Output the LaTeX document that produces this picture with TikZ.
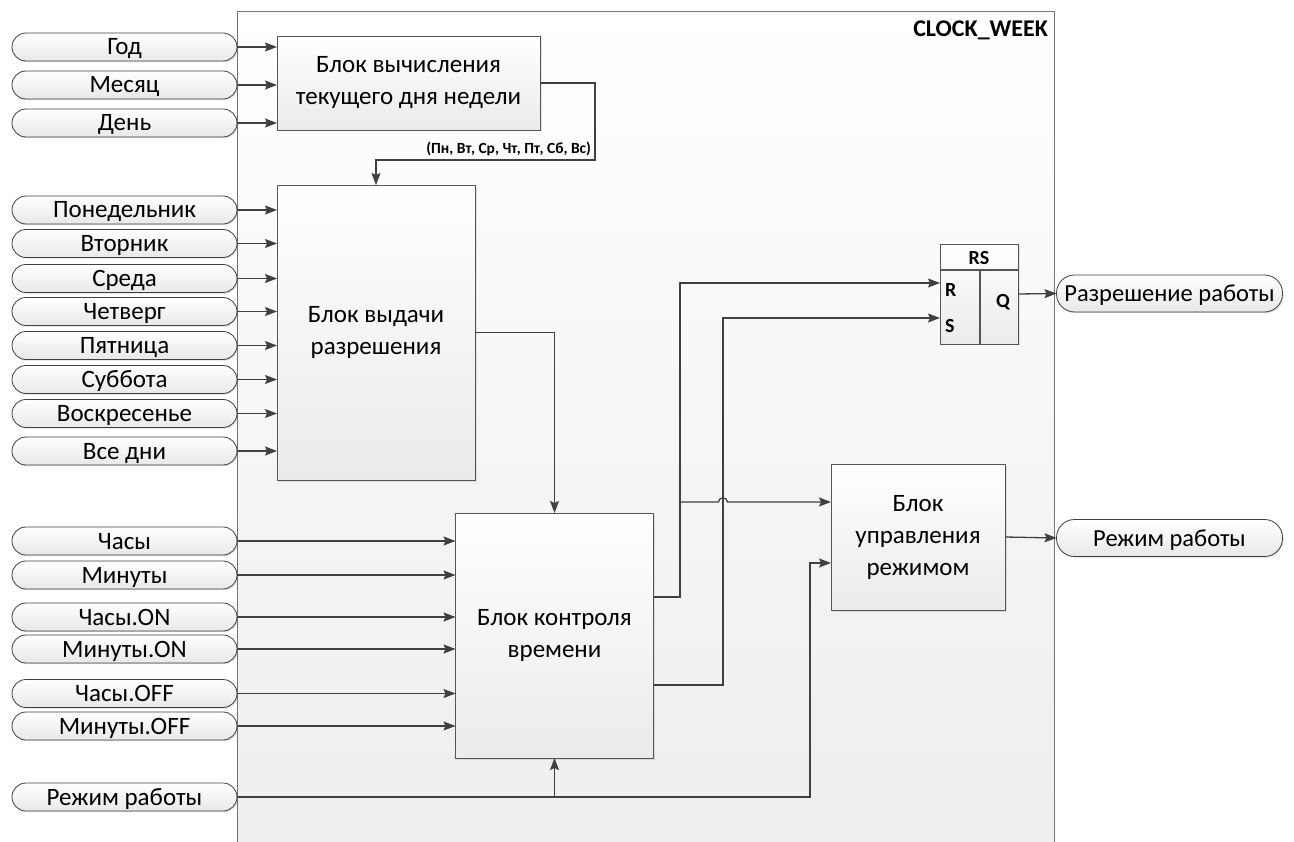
\documentclass[tikz,border=0pt]{standalone}
\usepackage{fontspec}
\setmainfont{Carlito}
\usetikzlibrary{arrows.meta,shadows}
\definecolor{ln}{HTML}{404040}
\definecolor{bd}{HTML}{555555}
\begin{document}
\begin{tikzpicture}[x=1pt,y=-1pt,
  every node/.style={font=\fontsize{25}{32}\selectfont, inner sep=0pt, outer sep=0pt},
  pill/.style={draw=ln, line width=0.8pt, rounded corners=14pt, minimum width=225pt, minimum height=28pt,
    text height=16pt, text depth=0pt,
    top color=white, bottom color=black!9, drop shadow={opacity=0.25, shadow xshift=1.2pt, shadow yshift=-1.2pt}},
  opill/.style={pill, minimum width=226pt, minimum height=37pt, rounded corners=18pt, font=\fontsize{24.5}{30}\selectfont},
  blockbox/.style={draw=bd, line width=0.8pt, top color=white, bottom color=black!8, align=center,
    drop shadow={opacity=0.2, shadow xshift=1.5pt, shadow yshift=-1.5pt}},
  arr/.style={draw=ln, line width=1.3pt, -{Stealth[length=12pt,width=9pt,inset=2pt]}},
  lbl/.style={font=\fontsize{15.5}{17}\selectfont\bfseries},
  rsl/.style={font=\fontsize{20}{22}\selectfont\bfseries}
]
\useasboundingbox (0,0) rectangle (1294,842);
% outer block
\node[draw=black!55, line width=0.8pt, top color=white, bottom color=black!7, minimum width=817pt, minimum height=850pt, anchor=north west] (clk) at (237,11) {};
\node[font=\fontsize{24}{26}\selectfont\bfseries, anchor=base east] (title) at (1048,37) {CLOCK\_WEEK};

% inputs
\node[pill] (pGod) at (124.5,47) {Год};
\node[pill] (pMes) at (124.5,85) {Месяц};
\node[pill] (pDen) at (124.5,123) {День};

\node[pill] (pPn) at (124.5,210) {Понедельник};
\node[pill] (pVt) at (124.5,243.5) {Вторник};
\node[pill] (pSr) at (124.5,278.5) {Среда};
\node[pill] (pCht) at (124.5,311.5) {Четверг};
\node[pill] (pPt) at (124.5,345.5) {Пятница};
\node[pill] (pSb) at (124.5,379.5) {Суббота};
\node[pill] (pVs) at (124.5,413.5) {Воскресенье};
\node[pill] (pAll) at (124.5,451) {Все дни};

\node[pill] (pH) at (124.5,541) {Часы};
\node[pill] (pM) at (124.5,575) {Минуты};
\node[pill] (pHon) at (124.5,617) {Часы.ON};
\node[pill] (pMon) at (124.5,649) {Минуты.ON};
\node[pill] (pHoff) at (124.5,693.5) {Часы.OFF};
\node[pill] (pMoff) at (124.5,726) {Минуты.OFF};

\node[pill] (pRezh) at (124.5,797) {Режим работы};

% outputs
\node[opill] (oRazr) at (1169.5,293.5) {Разрешение работы};
\node[opill] (oRezh) at (1169.5,538) {Режим работы};

% blocks
\node[blockbox, minimum width=263pt, minimum height=94pt] (b1) at (408.5,83) {Блок вычисления\\текущего дня недели};
\node[blockbox, minimum width=198pt, minimum height=295pt] (b2) at (376,332.5) {Блок выдачи\\разрешения};
\node[blockbox, minimum width=198pt, minimum height=245pt] (b3) at (554.5,635.5) {Блок контроля\\времени};
\node[blockbox, minimum width=174pt, minimum height=146pt] (b4) at (918,537) {Блок\\управления\\режимом};

% RS trigger
\node[blockbox, minimum width=78pt, minimum height=100pt] (rs) at (979,294) {};
\draw[draw=bd, line width=1.4pt] (rs.north west |- 0,270) -- (rs.north east |- 0,270);
\draw[draw=bd, line width=1.4pt] (980,270) -- (980,344);
\node[rsl, anchor=base] (rsT) at (979,265) {RS};
\node[rsl, anchor=base west] (rsRl) at (945,297) {R};
\node[rsl, anchor=base west] (rsSl) at (945,333) {S};
\node[rsl, anchor=base] (rsQl) at (1003,308) {Q};
\coordinate (rsR) at (940,283);
\coordinate (rsS) at (940,318);

% label
\node[lbl, anchor=base east] (days) at (591,154) {(Пн, Вт, Ср, Чт, Пт, Сб, Вс)};

% connectors: inputs
\foreach \p in {pGod,pMes,pDen} \draw[arr] (\p.east) -- (\p.east -| b1.west);
\foreach \p in {pPn,pVt,pSr,pCht,pPt,pSb,pVs,pAll} \draw[arr] (\p.east) -- (\p.east -| b2.west);
\foreach \p in {pH,pM,pHon,pMon,pHoff,pMoff} \draw[arr] (\p.east) -- (\p.east -| b3.west);

% block1 -> block2
\coordinate (c6) at (595,160);
\draw[arr] (b1.east) -| (c6) -| (b2.north);
% block2 -> block3
\draw[arr] (b2.east) -| (b3.north);
% block3 -> RS
\coordinate (c1) at (680,597);
\coordinate (c2) at (723,685);
\draw[arr] (b3.east |- c1) -- (c1) |- (rsR);
\draw[arr] (b3.east |- c2) -- (c2) |- (rsS);
% branch to block4 with hop
\coordinate (c3) at (680,502);
\draw[arr] (c3) -- (718.5,502) .. controls (718.5,496.5) and (727.5,496.5) .. (727.5,502) -- (b4.west |- c3);
% mode input
\coordinate (c4) at (810,797);
\coordinate (c5) at (810,563);
\draw[arr] (pRezh.east) -- (c4) -- (c5) -- (b4.west |- c5);
\draw[arr] (pRezh.east -| b3.south) -- (b3.south);
% outputs
\draw[arr] (rs.east) -- (oRazr.west);
\draw[arr] (b4.east) -- (oRezh.west);
\end{tikzpicture}
\end{document}
